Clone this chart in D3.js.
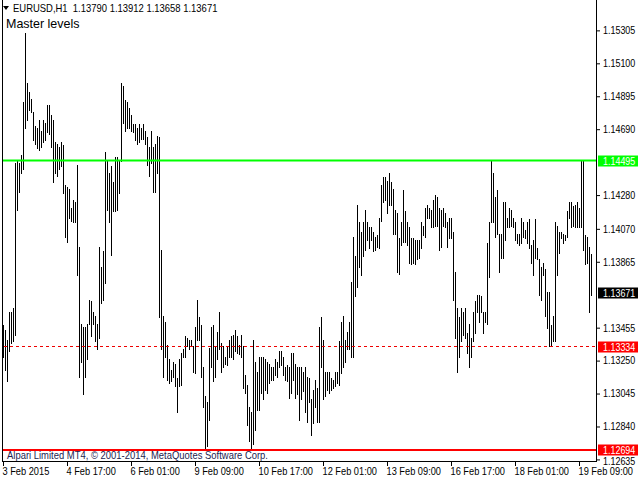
<!DOCTYPE html>
<html><head><meta charset="utf-8">
<script src="https://cdn.jsdelivr.net/npm/d3@7"></script>
<style>
html,body{margin:0;padding:0;background:#fff;}
svg{display:block;}
text{font-family:"Liberation Sans",Arial,sans-serif;}
</style></head><body>
<svg id="c" width="640" height="480"></svg>
<script>
const symbol = "EURUSD,H1";
const lastOHLC = [1.13790, 1.13912, 1.13658, 1.13671];
const indicatorName = "Master levels";
const copyright = "Alpari Limited MT4, \u00A9 2001-2014, MetaQuotes Software Corp.";

const highs = [
1.1347,1.1344,1.1338,1.1355,1.1355,1.1358,1.1448,1.1449,1.1448,1.1453,
1.1486,1.1529,1.1498,1.1492,1.1488,1.1480,1.1471,1.1470,1.1475,1.1468,
1.1475,1.1473,1.1484,1.1484,1.1478,1.1475,1.1461,1.1460,1.1458,1.1461,
1.1459,1.1434,1.1433,1.1432,1.1420,1.1425,1.1424,1.1447,1.1396,1.1348,
1.1346,1.1346,1.1348,1.1363,1.1362,1.1355,1.1353,1.1348,1.1396,1.1383,
1.1393,1.1455,1.1450,1.1442,1.1446,1.1436,1.1452,1.1452,1.1450,1.1498,
1.1496,1.1487,1.1486,1.1482,1.1478,1.1472,1.1472,1.1470,1.1472,1.1470,
1.1472,1.1468,1.1464,1.1458,1.1468,1.1458,1.1460,1.1465,1.1464,1.1394,
1.1353,1.1349,1.1335,1.1326,1.1319,1.1324,1.1323,1.1314,1.1326,1.1330,
1.1332,1.1340,1.1339,1.1338,1.1338,1.1334,1.1346,1.1363,1.1352,1.1347,
1.1321,1.1303,1.1299,1.1333,1.1346,1.1347,1.1334,1.1343,1.1355,1.1336,
1.1334,1.1327,1.1334,1.1338,1.1340,1.1341,1.1344,1.1340,1.1335,1.1341,
1.1334,1.1316,1.1310,1.1296,1.1293,1.1338,1.1324,1.1318,1.1327,1.1327,
1.1327,1.1326,1.1324,1.1323,1.1321,1.1321,1.1326,1.1324,1.1331,1.1331,
1.1327,1.1321,1.1322,1.1321,1.1330,1.1330,1.1323,1.1321,1.1321,1.1321,
1.1318,1.1321,1.1315,1.1314,1.1301,1.1307,1.1313,1.1308,1.1346,1.1352,
1.1338,1.1318,1.1318,1.1318,1.1314,1.1313,1.1318,1.1318,1.1337,1.1349,
1.1353,1.1338,1.1343,1.1349,1.1374,1.1402,1.1390,1.1422,1.1411,1.1405,
1.1411,1.1419,1.1411,1.1408,1.1408,1.1405,1.1402,1.1403,1.1414,1.1434,
1.1439,1.1439,1.1437,1.1442,1.1436,1.1432,1.1419,1.1417,1.1401,1.1411,
1.1431,1.1418,1.1411,1.1408,1.1401,1.1401,1.1400,1.1400,1.1400,1.1411,
1.1409,1.1420,1.1422,1.1420,1.1419,1.1425,1.1428,1.1427,1.1420,1.1419,
1.1420,1.1417,1.1411,1.1414,1.1414,1.1405,1.1380,1.1358,1.1352,1.1358,
1.1355,1.1358,1.1342,1.1348,1.1339,1.1355,1.1362,1.1366,1.1366,1.1365,
1.1355,1.1355,1.1398,1.1411,1.1449,1.1442,1.1427,1.1431,1.1404,1.1404,
1.1424,1.1424,1.1414,1.1420,1.1419,1.1414,1.1411,1.1404,1.1404,1.1414,
1.1411,1.1406,1.1411,1.1413,1.1397,1.1400,1.1413,1.1395,1.1388,1.1383,
1.1386,1.1382,1.1368,1.1368,1.1347,1.1353,1.1411,1.1409,1.1405,1.1405,
1.1404,1.1403,1.1418,1.1424,1.1424,1.1421,1.1422,1.1424,1.1420,1.1449,
1.14495,1.1403,1.1402,1.1396,1.13912
];
const lows = [
1.1327,1.1319,1.1312,1.1331,1.1336,1.1337,1.1341,1.1419,1.1430,1.1442,
1.1444,1.1470,1.1475,1.1481,1.1480,1.1462,1.1460,1.1457,1.1456,1.1458,
1.1461,1.1462,1.1467,1.1466,1.1458,1.1436,1.1442,1.1440,1.1444,1.1446,
1.1429,1.1402,1.1399,1.1414,1.1412,1.1411,1.1411,1.1378,1.1315,1.1324,
1.1304,1.1315,1.1326,1.1348,1.1340,1.1348,1.1337,1.1332,1.1339,1.1361,
1.1363,1.1373,1.1419,1.1411,1.1391,1.1418,1.1418,1.1419,1.1429,1.1449,
1.1473,1.1468,1.1470,1.1470,1.1468,1.1467,1.1462,1.1460,1.1461,1.1463,
1.1463,1.1460,1.1447,1.1440,1.1448,1.1430,1.1430,1.1442,1.1352,1.1332,
1.1315,1.1327,1.1313,1.1311,1.1312,1.1315,1.1309,1.1293,1.1309,1.1310,
1.1327,1.1327,1.1334,1.1332,1.1334,1.1318,1.1317,1.1338,1.1338,1.1315,
1.1296,1.1270,1.1272,1.1288,1.1321,1.1312,1.1315,1.1326,1.1332,1.1318,
1.1321,1.1323,1.1322,1.1327,1.1327,1.1326,1.1331,1.1330,1.1329,1.1327,
1.1308,1.1305,1.1285,1.1275,1.1270,1.1273,1.1282,1.1294,1.1294,1.1305,
1.1301,1.1307,1.1305,1.1311,1.1313,1.1313,1.1316,1.1315,1.1321,1.1322,
1.1316,1.1313,1.1312,1.1302,1.1305,1.1313,1.1302,1.1304,1.1288,1.1301,
1.1306,1.1293,1.1287,1.1299,1.1279,1.1286,1.1296,1.1287,1.1287,1.1321,
1.1301,1.1303,1.1307,1.1305,1.1307,1.1308,1.1309,1.1311,1.1310,1.1317,
1.1321,1.1324,1.1332,1.1332,1.1327,1.1327,1.1365,1.1371,1.1383,1.1378,
1.1390,1.1394,1.1400,1.1395,1.1400,1.1393,1.1394,1.1396,1.1395,1.1412,
1.1424,1.1425,1.1417,1.1422,1.1422,1.1404,1.1404,1.1380,1.1379,1.1397,
1.1399,1.1399,1.1397,1.1386,1.1385,1.1386,1.1385,1.1388,1.1389,1.1395,
1.1403,1.1402,1.1414,1.1414,1.1408,1.1408,1.1409,1.1409,1.1394,1.1396,
1.1409,1.1408,1.1396,1.1401,1.1401,1.1363,1.1339,1.1318,1.1327,1.1337,
1.1341,1.1339,1.1330,1.1321,1.1327,1.1337,1.1342,1.1355,1.1349,1.1355,
1.1342,1.1349,1.1348,1.1377,1.1411,1.1411,1.1402,1.1404,1.1380,1.1389,
1.1389,1.1400,1.1408,1.1408,1.1409,1.1408,1.1400,1.1398,1.1397,1.1398,
1.1402,1.1401,1.1398,1.1395,1.1386,1.1378,1.1389,1.1388,1.1366,1.1363,
1.1378,1.1353,1.1345,1.1334,1.1334,1.1337,1.1337,1.1378,1.1392,1.1401,
1.1398,1.1400,1.1402,1.1414,1.1408,1.1409,1.1408,1.1408,1.1408,1.1408,
1.1394,1.1385,1.1386,1.1355,1.13658
];

const timeTickIndex = [0,32,64,96,128,160,192,224,256,288];
const timeTickLabels = ["3 Feb 2015","4 Feb 17:00","6 Feb 01:00","9 Feb 09:00","10 Feb 17:00",
  "12 Feb 01:00","13 Feb 09:00","16 Feb 17:00","18 Feb 01:00","19 Feb 09:00"];
const priceTicks = [1.15305,1.15100,1.14895,1.14690,1.14280,1.14070,1.13865,1.13455,1.13250,1.13045,1.12840,1.12635];
const levelResistance = 1.14495;
const levelSupport = 1.12694;
const levelMid = 1.13334;
const priceDomain = [1.12619, 1.15494];

const svg = d3.select("#c");
const n = highs.length;
const L = 2.5, R = 596.5, B = 461.5;

const x = d3.scaleLinear().domain([0, n - 1]).range([3, 3 + 2 * (n - 1)]);
const y = d3.scaleLinear().domain(priceDomain).range([462, 0]);
const fmt = d3.format(".5f");

// squeeze text horizontally to mimic the narrow terminal font
function condense(sel, k) {
  sel.each(function () {
    const w = this.getComputedTextLength();
    d3.select(this).attr("textLength", (w * k).toFixed(1)).attr("lengthAdjust", "spacingAndGlyphs");
  });
}

// bars
svg.append("g").attr("shape-rendering","crispEdges")
  .selectAll("line").data(d3.range(n)).join("line")
  .attr("x1", i => x(i) + 0.5).attr("x2", i => x(i) + 0.5)
  .attr("y1", i => Math.round(y(highs[i]))).attr("y2", i => Math.round(y(lows[i])) + 1)
  .attr("stroke", "#000").attr("stroke-width", 1);

// level lines
svg.append("line").attr("x1", L).attr("x2", R)
  .attr("y1", y(levelResistance)).attr("y2", y(levelResistance))
  .attr("stroke", "#00ff00").attr("stroke-width", 2);
svg.append("line").attr("x1", L).attr("x2", R)
  .attr("y1", y(levelSupport)).attr("y2", y(levelSupport))
  .attr("stroke", "#ff0000").attr("stroke-width", 2);
svg.append("line").attr("x1", L + 1).attr("x2", R)
  .attr("y1", Math.round(y(levelMid)) - 0.5).attr("y2", Math.round(y(levelMid)) - 0.5)
  .attr("stroke", "#ee0000").attr("stroke-width", 1).attr("stroke-dasharray", "3,3")
  .attr("shape-rendering","crispEdges");

// frame
const frame = svg.append("g").attr("stroke", "#000").attr("shape-rendering","crispEdges");
frame.append("line").attr("x1", L).attr("x2", L).attr("y1", 0).attr("y2", B + 0.5);
frame.append("line").attr("x1", R).attr("x2", R).attr("y1", 0).attr("y2", B + 0.5);
frame.append("line").attr("x1", L).attr("x2", R).attr("y1", B).attr("y2", B);

// right axis
const yAxis = d3.axisRight(y).tickValues(priceTicks).tickFormat(fmt).tickSize(4).tickPadding(3);
const ga = svg.append("g").attr("transform", "translate(596,0)").call(yAxis);
ga.select(".domain").remove();
ga.selectAll("text").attr("font-size", 10.5).attr("font-family", null).attr("fill", "#000");
ga.selectAll("line").attr("stroke", "#000");
ga.selectAll(".tick").filter(d => d === priceTicks[priceTicks.length - 1])
  .select("text").attr("dy", "0.45em");
condense(ga.selectAll("text"), 0.85);

// bottom axis
const xAxis = d3.axisBottom(x).tickValues(timeTickIndex)
  .tickFormat((d, k) => timeTickLabels[k]).tickSize(4).tickPadding(2);
const gb = svg.append("g").attr("transform", "translate(0,462)").call(xAxis);
gb.select(".domain").remove();
gb.selectAll("text").attr("font-size", 10.5).attr("font-family", null)
  .attr("text-anchor", "start").attr("dx", -1).attr("fill", "#000");
gb.selectAll("line").attr("stroke", "#000");
condense(gb.selectAll("text"), 0.88);

// price label boxes
function priceBox(v, bg, txt) {
  const yy = Math.round(y(v));
  const g = svg.append("g");
  g.append("rect").attr("x", 598).attr("y", yy - 5.5).attr("width", 40).attr("height", 11).attr("fill", bg);
  const t = g.append("text").attr("x", 603).attr("y", yy + 3.5).attr("font-size", 10.5)
    .attr("fill", txt).text(fmt(v));
  condense(t, 0.85);
}
priceBox(levelResistance, "#00ff00", "#fff");
priceBox(lastOHLC[3], "#000", "#fff");
priceBox(levelMid, "#ff0000", "#fff");
priceBox(levelSupport, "#ff0000", "#fff");

// header
svg.append("path").attr("d", "M3,6 L9,6 L6,10 Z").attr("fill", "#000");
const hdr = svg.append("text").attr("x", 13).attr("y", 12).attr("font-size", 10.5).attr("fill", "#000")
  .attr("xml:space", "preserve").style("white-space", "pre")
  .text(symbol + "  " + lastOHLC.map(fmt).join(" "));
condense(hdr, 0.9);
const ml = svg.append("text").attr("x", 6).attr("y", 28).attr("font-size", 13).attr("fill", "#000")
  .text(indicatorName);
condense(ml, 0.96);
const cp = svg.append("text").attr("x", 7).attr("y", 459).attr("font-size", 10.5).attr("fill", "#1c1c50")
  .text(copyright);
cp.attr("textLength", 261).attr("lengthAdjust", "spacingAndGlyphs");
</script>
</body></html>
